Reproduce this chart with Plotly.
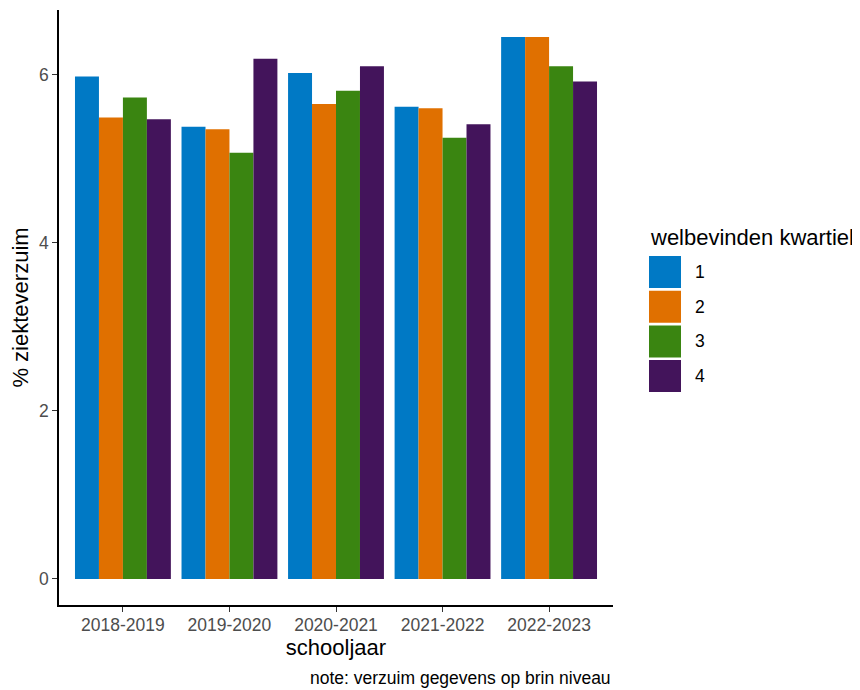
import plotly.graph_objects as go

years = ["2018-2019", "2019-2020", "2020-2021", "2021-2022", "2022-2023"]
kwartielen = ["1", "2", "3", "4"]
k1 = [5.98, 5.38, 6.02, 5.62, 6.45]
k2 = [5.49, 5.35, 5.65, 5.60, 6.45]
k3 = [5.73, 5.07, 5.81, 5.25, 6.10]
k4 = [5.47, 6.19, 6.10, 5.41, 5.92]
series = [k1, k2, k3, k4]
colors = ["#0079C5", "#E07000", "#3A8511", "#43145B"]

OFF = 8  # page body margin
W, H = 860 - OFF, 690 - OFF
# plot area in page pixels
L, R, T, B = 59, 613, 10, 605

FONT = "Liberation Sans, Arial"
TICK = 17.5
TITLE = 22

fig = go.Figure()
for name, vals, c in zip(kwartielen, series, colors):
    fig.add_trace(go.Bar(x=years, y=vals, name=name, marker=dict(color=c, line=dict(width=0)),
                         showlegend=False))

def px(x):
    return (x - L) / (R - L)

def py(y):
    return (B - y) / (B - T)

shapes = []
annotations = []
annotations.append(dict(text="welbevinden kwartiel", x=px(648), y=py(237), xref="paper", yref="paper",
                        xanchor="left", yanchor="middle", showarrow=False,
                        font=dict(family=FONT, size=TITLE, color="#000000")))
for i, (name, c) in enumerate(zip(kwartielen, colors)):
    top = 256 + i * 34.7
    shapes.append(dict(type="rect", xref="paper", yref="paper", x0=px(649), x1=px(681),
                       y0=py(top), y1=py(top + 32), fillcolor=c, line=dict(width=0)))
    annotations.append(dict(text=name, x=px(693), y=py(top + 16), xref="paper", yref="paper",
                            xanchor="left", yanchor="middle", showarrow=False,
                            font=dict(family=FONT, size=TICK, color="#000000")))
annotations.append(dict(text="note: verzuim gegevens op brin niveau", x=1.0, y=py(678), xref="paper", yref="paper",
                        xanchor="right", yanchor="middle", showarrow=False,
                        font=dict(family=FONT, size=TICK, color="#000000")))

fig.update_layout(
    width=W, height=H,
    margin=dict(l=L - OFF, r=W - (R - OFF), t=T - OFF, b=H - (B - OFF), pad=0),
    paper_bgcolor="white", plot_bgcolor="white",
    barmode="group", bargap=0.1, bargroupgap=0,
    font=dict(family=FONT, color="#000000"),
    shapes=shapes, annotations=annotations,
    xaxis=dict(
        range=[-0.6, 4.6], showgrid=False, zeroline=False,
        showline=True, linecolor="#000000", linewidth=1.5,
        ticks="outside", ticklen=5, tickcolor="#333333", tickwidth=1.2,
        ticklabelstandoff=-2,
        tickfont=dict(family=FONT, size=TICK, color="#4D4D4D"),
        title=dict(text="schooljaar", standoff=4,
                   font=dict(family=FONT, size=TITLE, color="#000000")),
    ),
    yaxis=dict(
        range=[-0.31, 6.77], showgrid=False, zeroline=False,
        showline=True, linecolor="#000000", linewidth=1.5,
        tickvals=[0, 2, 4, 6], ticktext=["0", "2", "4", "6"],
        ticks="outside", ticklen=5, tickcolor="#333333", tickwidth=1.2,
        tickfont=dict(family=FONT, size=TICK, color="#4D4D4D"),
        title=dict(text="% ziekteverzuim", standoff=6,
                   font=dict(family=FONT, size=TITLE, color="#000000")),
    ),
)

fig.write_html("out.html")
